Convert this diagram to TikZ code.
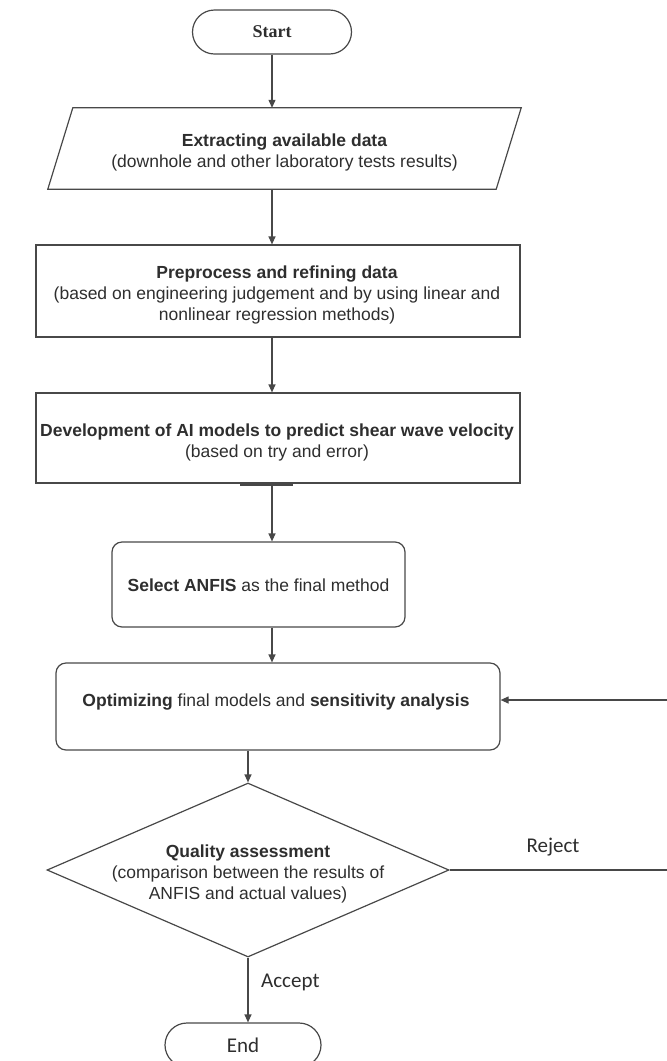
\documentclass[tikz,border=0pt]{standalone}
\usepackage{fontspec}
\setmainfont{Liberation Sans}
\newfontfamily\serifbold{Liberation Serif}
\newfontfamily\labelfont{Carlito}
\usetikzlibrary{arrows.meta,shapes.geometric}
\definecolor{ink}{HTML}{2E2E2E}
\definecolor{edge}{HTML}{484848}
\tikzset{
  boxtext/.style={text=ink, align=center, font=\fontsize{17.5}{21}\selectfont, inner sep=0pt},
  frame/.style={draw=edge, line width=1.2pt, inner sep=0pt},
  roundframe/.style={frame, rounded corners=10pt},
  term/.style={frame, text=ink, rounded corners=22pt, minimum width=159pt, minimum height=44pt},
  flow/.style={draw=edge, line width=1.2pt},
  arr/.style={flow, -{Triangle[length=8pt,width=7pt]}},
  tag/.style={text=ink, font=\labelfont\fontsize{21}{25}\selectfont, inner sep=0pt},
}
\begin{document}
\begin{tikzpicture}[x=1pt,y=-1pt]
\useasboundingbox (0,0) rectangle (667,1061);
\clip (0,0) rectangle (667,1061);

% start terminal
\node[term, font=\serifbold\bfseries\fontsize{18}{20}\selectfont] (start) at (272,32) {Start};

% data input (parallelogram)
\node[minimum width=473pt, minimum height=81pt, inner sep=0pt] (extract) at (284.5,148.5) {};
\draw[flow] ([xshift=25pt]extract.north west) -- (extract.north east)
  -- ([xshift=-25pt]extract.south east) -- (extract.south west) -- cycle;
\node[boxtext] (extracttext) at (284.5,152)
  {\textbf{Extracting available data}\\(downhole and other laboratory tests results)};

% processing steps
\node[frame, minimum width=484pt, minimum height=92pt] (pre) at (278,291) {};
\node[boxtext] (pretext) at (277,294.5)
  {\textbf{Preprocess and refining data}\\(based on engineering judgement and by using linear and\\nonlinear regression methods)};

\node[frame, minimum width=484pt, minimum height=90pt] (dev) at (278,438) {};
\node[boxtext] (devtext) at (277,442.5)
  {\textbf{Development of AI models to predict shear wave velocity}\\(based on try and error)};
\draw[edge, line width=2pt] ([xshift=-38pt,yshift=-1.5pt]dev.south) -- ([xshift=15pt,yshift=-1.5pt]dev.south);

\node[roundframe, minimum width=293pt, minimum height=85pt] (select) at (258.5,584.5) {};
\node[boxtext] (selecttext) at (258.5,585)
  {\textbf{Select ANFIS} as the final method};

\node[roundframe, minimum width=444pt, minimum height=87pt] (opt) at (278,706.5) {};
\node[boxtext] (opttext) at (276,702)
  {\textbf{Optimizing} final models and \textbf{sensitivity analysis}};

% decision
\node[frame, diamond, minimum width=402pt, minimum height=174pt, shape aspect=2.31] (qa) at (248,870) {};
\node[boxtext] (qatext) at (248,874)
  {\textbf{Quality assessment}\\(comparison between the results of\\ANFIS and actual values)};

% end terminal
\node[term, font=\labelfont\fontsize{21}{25}\selectfont, minimum width=156pt] (end) at (243,1045) {End};

% connectors
\draw[arr] (start.south) -- (start.south |- extract.north);
\draw[arr] (extract.south -| start) -- (pre.north -| start);
\draw[arr] (pre.south -| start) -- (dev.north -| start);
\draw[arr] (dev.south -| start) -- (select.north -| start);
\draw[arr] (select.south -| start) -- (opt.north -| start);
\draw[arr] (opt.south -| qa.north) -- (qa.north);
\draw[arr] (qa.south) -- (qa.south |- end.north);
\node[tag, anchor=west] (accept) at (261,982) {Accept};

% rejection loop back to the optimisation step
\coordinate (loopB) at (671,870);
\coordinate (loopT) at (671,700);
\draw[arr] (qa.east) -- (loopB) -- (loopT) -- (opt.east |- loopT);
\node[tag] (reject) at (553,847) {Reject};
\end{tikzpicture}
\end{document}
